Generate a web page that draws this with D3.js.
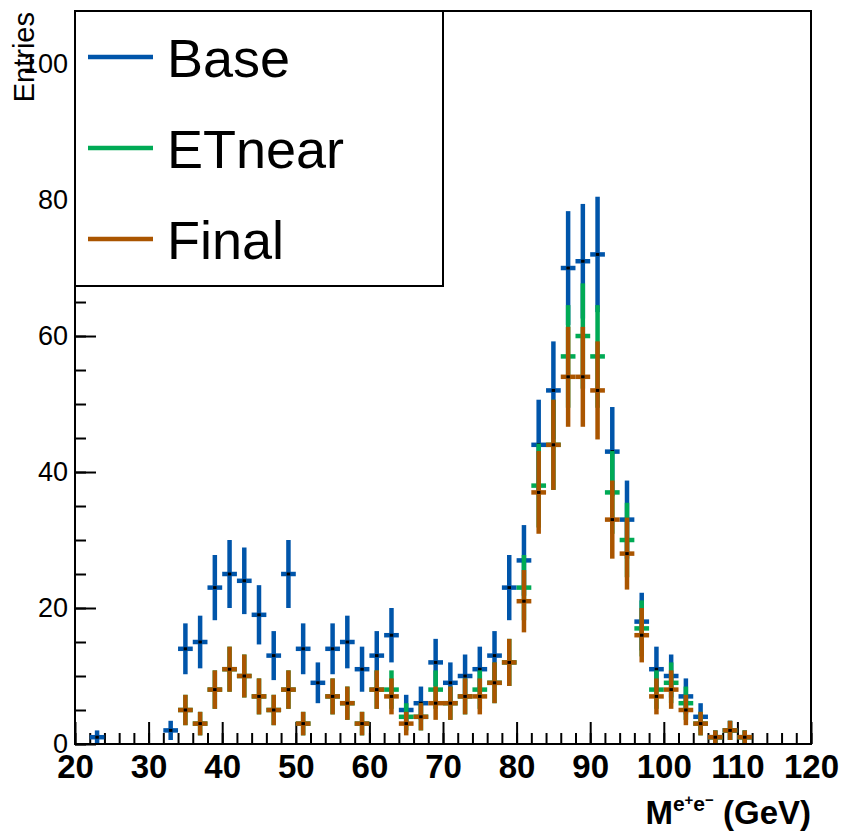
<!DOCTYPE html>
<html>
<head>
<meta charset="utf-8">
<script src="https://cdn.jsdelivr.net/npm/d3@7"></script>
<style>
  html, body { margin: 0; padding: 0; background: #fff; }
  svg { display: block; }
  text { font-family: "Liberation Sans", Arial, Helvetica, sans-serif; }
</style>
</head>
<body>
<svg id="chart" width="846" height="836"></svg>
<script>
// ---- data ----
const binLow = 20, binWidth = 2;
const binCenters = d3.range(21, 120, 2);
const baseValues   = [0,1,0,0,0,0,2,14,15,23,25,24,19,13,25,14,9,14,15,11,13,16,5,6,12,9,10,11,13,23,27,44,52,70,71,72,43,33,18,11,10,7,4,1,2,1,0,0,0,0];
const etnearValues = [0,0,0,0,0,0,0,5,3,8,11,10,7,5,8,3,0,7,6,3,8,8,4,4,8,6,7,8,9,12,23,38,44,57,60,57,37,30,17,8,9,6,3,1,2,1,0,0,0,0];
const finalValues  = [0,0,0,0,0,0,0,5,3,8,11,10,7,5,8,3,0,7,6,3,8,7,3,4,6,6,7,7,9,12,21,37,44,54,54,52,33,28,16,7,8,5,3,1,2,1,0,0,0,0];
const seriesNames  = ["Base", "ETnear", "Final"];
const seriesColors = ["#0055aa", "#00aa55", "#aa5500"];
const xTickValues = [20,30,40,50,60,70,80,90,100,110,120];
const yTickValues = [0,20,40,60,80,100];

const svg = d3.select("#chart");
svg.append("rect").attr("width",846).attr("height",836).attr("fill","#fff");

const x = d3.scaleLinear().domain([20,120]).range([75,811]);
const y = d3.scaleLinear().domain([0,107.8]).range([744,11]);

// axes (ticks inward)
const gx = svg.append("g").attr("transform","translate(0,744)");
gx.call(d3.axisBottom(x).tickValues(d3.range(20,121,2)).tickSize(-11).tickFormat(""));
const gx2 = svg.append("g").attr("transform","translate(0,744)");
gx2.call(d3.axisBottom(x).tickValues(xTickValues).tickSize(-22).tickPadding(11).tickFormat(d3.format("d")));
const gy = svg.append("g").attr("transform","translate(75,0)");
gy.call(d3.axisLeft(y).tickValues(d3.range(0,106,5)).tickSize(-11).tickFormat(""));
const gy2 = svg.append("g").attr("transform","translate(75,0)");
gy2.call(d3.axisLeft(y).tickValues(yTickValues).tickSize(-21).tickPadding(7).tickFormat(d3.format("d")));
[gx,gx2,gy,gy2].forEach(g => {
  g.select(".domain").remove();
  g.selectAll(".tick line").attr("stroke","#000").attr("stroke-width",2);
});
gx2.selectAll("text").attr("font-size",33).attr("font-weight","bold").attr("fill","#000")
   .attr("font-family","'Liberation Sans', Arial, sans-serif");
gy2.selectAll("text").attr("font-size",27).attr("fill","#000")
   .attr("font-family","'Liberation Sans', Arial, sans-serif");

// histograms with Poisson error bars
const allSeries = [baseValues, etnearValues, finalValues];
allSeries.forEach((vals, si) => {
  const g = svg.append("g");
  const pts = binCenters.map((c,i)=>({c, v: vals[i]})).filter(d => d.v > 0);
  g.selectAll("line.v").data(pts).join("line")
    .attr("x1", d=>x(d.c)).attr("x2", d=>x(d.c))
    .attr("y1", d=>y(d.v - Math.sqrt(d.v))).attr("y2", d=>y(d.v + Math.sqrt(d.v)))
    .attr("stroke", seriesColors[si]).attr("stroke-width", 4.5);
  g.selectAll("line.h").data(pts).join("line")
    .attr("x1", d=>x(d.c - binWidth/2)).attr("x2", d=>x(d.c + binWidth/2))
    .attr("y1", d=>y(d.v)).attr("y2", d=>y(d.v))
    .attr("stroke", seriesColors[si]).attr("stroke-width", 4.5);
  g.selectAll("rect.m").data(pts).join("rect")
    .attr("x", d=>x(d.c)-1.75).attr("y", d=>y(d.v)-1.5)
    .attr("width",3.5).attr("height",3).attr("fill","#000");
});

// frame
svg.append("rect").attr("x",75).attr("y",11).attr("width",736).attr("height",733)
  .attr("fill","none").attr("stroke","#000").attr("stroke-width",2);

// legend
svg.append("rect").attr("x",75).attr("y",11).attr("width",368).attr("height",275)
  .attr("fill","#fff").attr("stroke","#000").attr("stroke-width",2);
const legY = [57,148,239];
seriesNames.forEach((n,i)=>{
  svg.append("line").attr("x1",88).attr("x2",153).attr("y1",legY[i]).attr("y2",legY[i])
    .attr("stroke",seriesColors[i]).attr("stroke-width",4.5);
  svg.append("text").attr("x",167).attr("y",legY[i]+20).attr("font-size",54).attr("fill","#000").text(n);
});

// axis titles
svg.append("text").attr("transform","translate(34,12) rotate(-90)")
  .attr("text-anchor","end").attr("font-size",29).attr("fill","#000").text("Entries");

const t = svg.append("text").attr("x",811).attr("y",824).attr("text-anchor","end")
  .attr("font-weight","bold").attr("font-size",33).attr("fill","#000");
t.append("tspan").text("M");
t.append("tspan").attr("font-size",21).attr("dy",-13).text("e");
t.append("tspan").attr("font-size",15).attr("dy",-6).text("+");
t.append("tspan").attr("font-size",21).attr("dy",6).text("e");
t.append("tspan").attr("font-size",15).attr("dy",-6).text("\u2212");
t.append("tspan").attr("dy",19).text(" (GeV)");
</script>
</body>
</html>
